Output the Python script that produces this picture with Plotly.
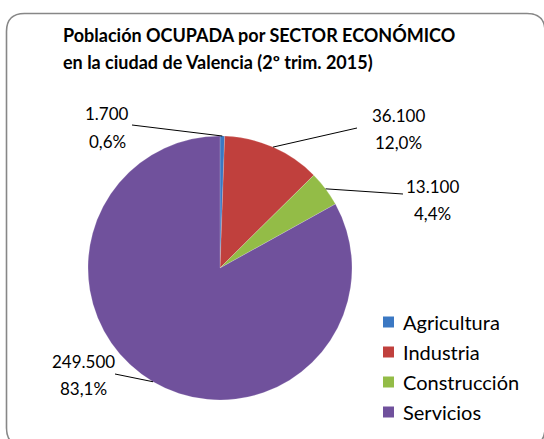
import math
import plotly.graph_objects as go

# ---- data ----
sectors = ["Agricultura", "Industria", "Construcción", "Servicios"]
employed = [1700, 36100, 13100, 249500]
colors = ["#3B78C3", "#C0403D", "#93BC47", "#70519C"]
title_lines = ["Población OCUPADA por SECTOR ECONÓMICO",
               "en la ciudad de Valencia (2º trim. 2015)"]

W, H = 544, 439
CX, CY, R = 220, 268, 132
FONT = "Lato"

def px(x):
    return x / W

def py(y):
    return 1 - y / H

def es_int(v):
    return f"{v:,}".replace(",", ".")

def es_pct(p):
    return f"{p:.1f}".replace(".", ",") + "%"

total = sum(employed)
pcts = [v / total * 100 for v in employed]

fig = go.Figure(go.Pie(
    labels=sectors, values=employed, sort=False, direction="clockwise",
    rotation=0, marker=dict(colors=colors, line=dict(color="rgba(255,255,255,0.35)", width=0.5)),
    textinfo="none", hoverinfo="label+value+percent", showlegend=False,
    domain=dict(x=[px(CX - R), px(CX + R)], y=[py(CY + R), py(CY - R)]),
))

shapes = []
annotations = []

# frame
x0, y0, x1, y1, rr = 6.5, 13.5, 545, 446, 18
path = (f"M {px(x0)},{py(y0+rr)} L {px(x0)},{py(y1-rr)} "
        f"Q {px(x0)},{py(y1)} {px(x0+rr)},{py(y1)} L {px(x1-rr)},{py(y1)} "
        f"Q {px(x1)},{py(y1)} {px(x1)},{py(y1-rr)} L {px(x1)},{py(y0+rr)} "
        f"Q {px(x1)},{py(y0)} {px(x1-rr)},{py(y0)} L {px(x0+rr)},{py(y0)} "
        f"Q {px(x0)},{py(y0)} {px(x0)},{py(y0+rr)} Z")
shapes.append(dict(type="path", xref="paper", yref="paper", path=path,
                   line=dict(color="#878787", width=1.6), fillcolor="rgba(0,0,0,0)"))

# title
for i, t in enumerate(title_lines):
    annotations.append(dict(text=f"<b>{t}</b>", xref="paper", yref="paper",
                            x=px(61), y=py(35 + 27 * i), xanchor="left", yanchor="middle",
                            showarrow=False, font=dict(family=FONT, size=18, color="#000")))

# data labels with leader lines: (leader end x, y, text center x, first line y)
label_pos = [(132, 125, 107, 114), (357, 128, 398, 115),
             (403, 194, 432, 186), (115, 374, 83, 361)]
cum = 0
for i, v in enumerate(employed):
    mid = (cum + v / 2) / total * 2 * math.pi
    cum += v
    sx = CX + R * math.sin(mid)
    sy = CY - R * math.cos(mid)
    ex, ey, tx, ty = label_pos[i]
    shapes.append(dict(type="line", xref="paper", yref="paper",
                       x0=px(sx), y0=py(sy), x1=px(ex), y1=py(ey),
                       line=dict(color="#000", width=1)))
    for j, t in enumerate([es_int(v), es_pct(pcts[i])]):
        annotations.append(dict(text=t, xref="paper", yref="paper",
                                x=px(tx), y=py(ty + 27 * j), xanchor="center", yanchor="middle",
                                showarrow=False, font=dict(family=FONT, size=17, color="#000")))

# legend
for i, s in enumerate(sectors):
    yc = 322 + 30 * i
    shapes.append(dict(type="rect", xref="paper", yref="paper",
                       x0=px(383), x1=px(394), y0=py(yc + 5.5), y1=py(yc - 5.5),
                       fillcolor=colors[i], line=dict(width=0)))
    annotations.append(dict(text=s, xref="paper", yref="paper",
                            x=px(401), y=py(yc), xanchor="left", yanchor="middle",
                            showarrow=False, font=dict(family=FONT, size=20, color="#000")))

fig.update_layout(
    width=W, height=H, margin=dict(l=0, r=0, t=0, b=0),
    paper_bgcolor="white", plot_bgcolor="white",
    shapes=shapes, annotations=annotations,
)
fig.write_html("out.html", config={"displayModeBar": False},
               post_script="document.body.style.margin='0';document.body.style.overflow='hidden';")
